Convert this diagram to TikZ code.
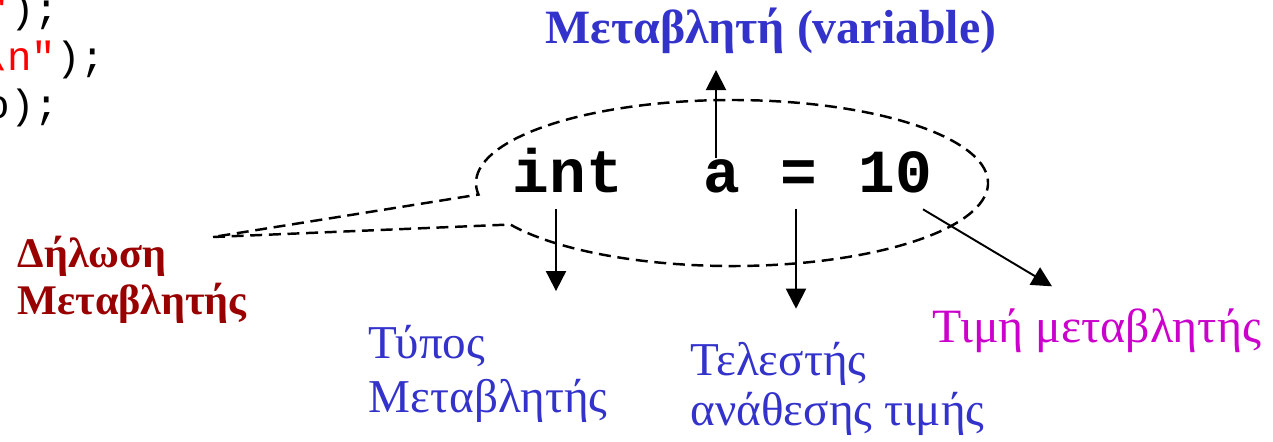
\documentclass[tikz,border=0pt]{standalone}
\usepackage{fontspec}
\setmainfont{Liberation Serif}
\newfontfamily\codefont{Liberation Mono}
\usetikzlibrary{arrows.meta,calc}
\definecolor{varblue}{RGB}{51,51,204}
\definecolor{declred}{RGB}{153,0,0}
\definecolor{valmag}{RGB}{204,0,204}

\begin{document}
\begin{tikzpicture}[x=0.01cm, y=0.01cm,
  tok/.style={inner sep=0pt, anchor=base, font=\codefont\bfseries\fontsize{17.4}{17.4}\selectfont},
  src/.style={inner sep=0pt, anchor=base east, font=\codefont\fontsize{11.6}{11.6}\selectfont},
  lbl/.style={inner sep=0pt, anchor=base west, align=left},
  arr/.style={line width=0.55pt, -{Triangle[length=5.7pt, width=5.7pt]}},
  callout/.style={line width=0.7pt, dash pattern=on 3.4pt off 1.9pt}]
  \useasboundingbox (0,0) rectangle (1273,441);
  % source lines cut by the left edge
  \node[src] (src1) at (60,419) {{\color{red}"});};
  \node[src] (src2) at (106,371) {{\color{red}\textbackslash n"});};
  \node[src] (src3) at (60,323) {o);};
  % the declaration
  \node[tok] (int) at (568,249) {int};
  \node[tok] (a) at (722,249) {a};
  \node[tok] (eq) at (799,249) {=};
  \node[tok] (ten) at (895,249) {10};
  % dashed callout
  \coordinate (ellc) at (732,258);
  \coordinate (decl tip) at (213,204);
  \draw[callout] (decl tip) -- ($(ellc)+(210:256 and 83)$)
    arc[start angle=210, end angle=548, x radius=256, y radius=83] -- cycle;
  % labels (multi-line ones sit on their last baseline)
  \node[lbl, font=\bfseries\fontsize{13.6}{13.6}\selectfont, text=varblue] (var) at (545,398) {Μεταβλητή (variable)};
  \node[lbl, font=\bfseries\fontsize{12}{13.1}\selectfont, text=declred] (decl) at (17,127) {Δήλωση\\Μεταβλητής};
  \node[lbl, font=\fontsize{13.4}{15.1}\selectfont, text=varblue] (type) at (368,29) {Τύπος\\Μεταβλητής};
  \node[lbl, font=\fontsize{13.4}{14.2}\selectfont, text=varblue] (assign) at (690,16) {Τελεστής\\ανάθεσης τιμής};
  \node[lbl, font=\fontsize{13.6}{13.6}\selectfont, text=valmag] (value) at (932,99) {Τιμή μεταβλητής};
  % arrows
  \coordinate (var tip) at (716,371);
  \draw[arr] (var tip |- a.north) -- (var tip);
  \draw[arr] ($(int.south)+(-12,-16)$) -- ++(0,-82);
  \draw[arr] ($(eq.south)+(-3,-16)$) -- ++(0,-100);
  \draw[arr] ($(ten.south)+(28,-16)$) -- ++(129,-77);
\end{tikzpicture}
\end{document}
